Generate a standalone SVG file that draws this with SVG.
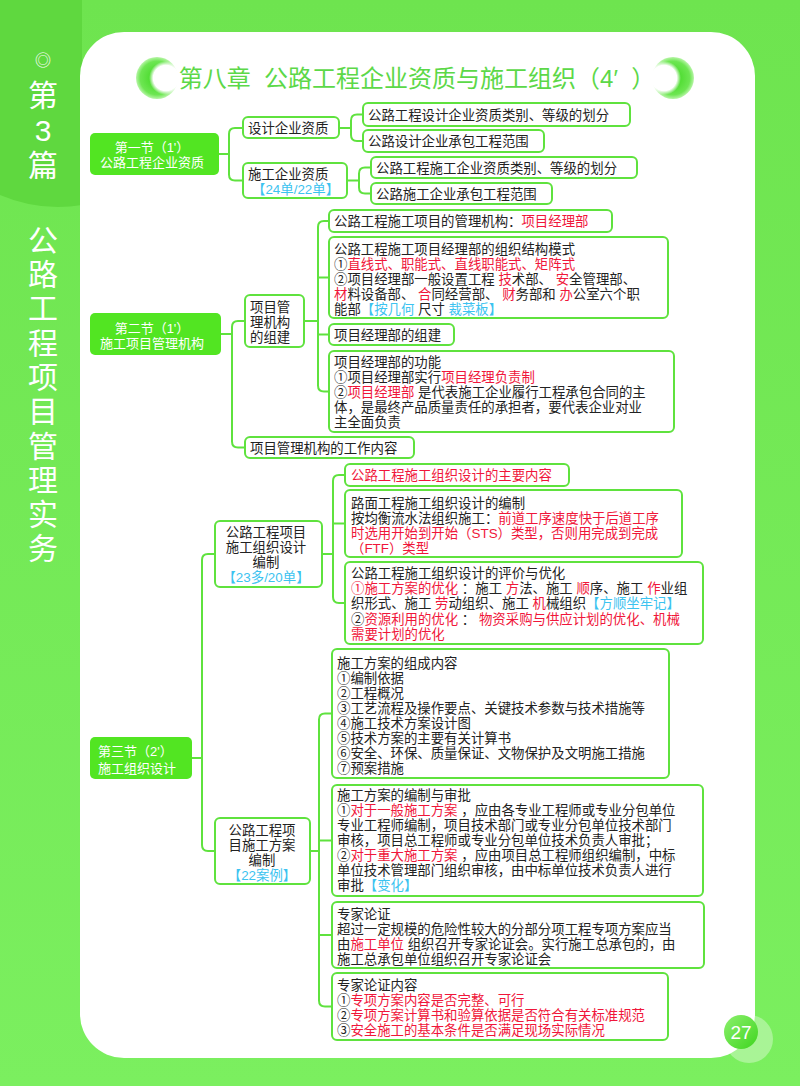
<svg xmlns="http://www.w3.org/2000/svg" width="800" height="1086" viewBox="0 0 800 1086">
<defs>
<linearGradient id="bg" x1="0" y1="0" x2="0" y2="1">
<stop offset="0" stop-color="#6ee44f"/>
<stop offset="1" stop-color="#7bef5f"/>
</linearGradient>
<radialGradient id="orn" cx="0.5" cy="0.5" r="0.5">
<stop offset="0" stop-color="#3bd61c"/>
<stop offset="0.8" stop-color="#6de652"/>
<stop offset="1" stop-color="#b8f5a8"/>
</radialGradient>
<radialGradient id="wfade" cx="0.5" cy="0.5" r="0.5">
<stop offset="0" stop-color="#ffffff"/>
<stop offset="0.75" stop-color="#ffffff"/>
<stop offset="1" stop-color="#ffffff" stop-opacity="0"/>
</radialGradient>
<linearGradient id="pg" x1="0" y1="0" x2="1" y2="1">
<stop offset="0" stop-color="#8df06e"/>
<stop offset="1" stop-color="#3ed51e"/>
</linearGradient>
<style>
.box{fill:#fff;stroke:#5fe23e;stroke-width:2}
.sec{fill:#52e522}
.conn{fill:none;stroke:#5fe23e;stroke-width:2}
text{font-family:"Liberation Sans","Noto Sans CJK SC",sans-serif;white-space:pre}
.t{font-size:13.4px;fill:#222}
.w{font-size:13px;fill:#fff}
.r{fill:#f0163a}
.b{fill:#3cc3f0}
.side{font-size:30px;fill:#fff;text-anchor:middle}
</style>
</defs>

<rect x="0" y="0" width="800" height="1086" fill="url(#bg)"/>
<path d="M0 0 H82 V205 Q40 212 0 195 Z" fill="#5fd83f"/>
<rect x="80" y="32" width="675" height="1026" rx="44" ry="44" fill="#fff"/>

<g id="sidebar">
<text class="side" x="43" y="66" style="font-size:16px">◎</text>
<text class="side"><tspan x="43" y="106">第</tspan><tspan x="43" y="141">3</tspan><tspan x="43" y="176">篇</tspan></text>
<text class="side"><tspan x="43" y="251">公</tspan><tspan x="43" y="285">路</tspan><tspan x="43" y="319">工</tspan><tspan x="43" y="354">程</tspan><tspan x="43" y="388">项</tspan><tspan x="43" y="422">目</tspan><tspan x="43" y="457">管</tspan><tspan x="43" y="491">理</tspan><tspan x="43" y="525">实</tspan><tspan x="43" y="559">务</tspan></text>
</g>

<g id="title">
<circle cx="157" cy="78" r="21" fill="url(#orn)"/>
<circle cx="166" cy="78" r="17" fill="url(#wfade)"/>
<circle cx="673" cy="78" r="21" fill="url(#orn)"/>
<circle cx="664" cy="78" r="17" fill="url(#wfade)"/>
<text x="417" y="87" text-anchor="middle" style="font-size:24px;fill:#5cd848">第八章  公路工程企业资质与施工组织（4′  ）</text>
</g>

<g id="connectors">
<path class="conn" d="M219 154 H229 M229 154 V134 Q229 128 235 128 H243 M229 154 V174.5 Q229 180.5 235 180.5 H243"/>
<path class="conn" d="M339 128 H351 M351 128 V120.5 Q351 114.5 357 114.5 H363 M351 128 V135 Q351 141 357 141 H363"/>
<path class="conn" d="M347 180.5 H359 M359 180.5 V173.5 Q359 167.5 365 167.5 H371 M359 180.5 V187.5 Q359 193.5 365 193.5 H371"/>
<path class="conn" d="M221 334 H232 M232 334 V327 Q232 321 238 321 H245 M232 334 V441.5 Q232 447.5 238 447.5 H245"/>
<path class="conn" d="M304 321 H318 M318 321 V227 Q318 221 324 221 H329 M318 321 V385.5 Q318 391.5 324 391.5 H329 M318 277.5 H329 M318 334.5 H329"/>
<path class="conn" d="M192 758 H202 M202 758 V560 Q202 554 208 554 H215 M202 758 V845 Q202 851 208 851 H215"/>
<path class="conn" d="M322 554 H333 M333 554 V481 Q333 475 339 475 H345 M333 554 V597 Q333 603 339 603 H345 M333 523.5 H345"/>
<path class="conn" d="M310 851 H319 M319 851 V719.5 Q319 713.5 325 713.5 H332 M319 851 V1000.5 Q319 1006.5 325 1006.5 H332 M319 840.5 H332 M319 935 H332"/>
</g>

<g id="sec1">
<rect class="sec" x="90" y="133" width="129" height="42" rx="5"/>
<text class="w" text-anchor="middle"><tspan x="152" y="152">第一节（1'）</tspan><tspan x="152" y="167">公路工程企业资质</tspan></text>
</g>
<g id="nodeA">
<rect class="box" x="243" y="117" width="96" height="21" rx="5"/>
<text class="t" x="248" y="132.5">设计企业资质</text>
</g>
<g id="nodeA1">
<rect class="box" x="363" y="103" width="267" height="23" rx="5"/>
<text class="t" x="368" y="119.5">公路工程设计企业资质类别、等级的划分</text>
</g>
<g id="nodeA2">
<rect class="box" x="363" y="130" width="181" height="22" rx="5"/>
<text class="t" x="368" y="146">公路设计企业承包工程范围</text>
</g>
<g id="nodeB">
<rect class="box" x="243" y="163" width="104" height="35" rx="5"/>
<text class="t"><tspan x="248" y="178.5">施工企业资质</tspan><tspan class="b" x="252" y="193.5">【24单/22单】</tspan></text>
</g>
<g id="nodeB1">
<rect class="box" x="371" y="157" width="266" height="21" rx="5"/>
<text class="t" x="376" y="172.5">公路工程施工企业资质类别、等级的划分</text>
</g>
<g id="nodeB2">
<rect class="box" x="371" y="183" width="181" height="21" rx="5"/>
<text class="t" x="376" y="198.5">公路施工企业承包工程范围</text>
</g>

<g id="sec2">
<rect class="sec" x="90" y="313" width="131" height="42" rx="5"/>
<text class="w" text-anchor="middle"><tspan x="152" y="333">第二节（1'）</tspan><tspan x="152" y="348">施工项目管理机构</tspan></text>
</g>
<g id="nodeC">
<rect class="box" x="245" y="295" width="59" height="52" rx="5"/>
<text class="t"><tspan x="250" y="312">项目管</tspan><tspan x="250" y="327">理机构</tspan><tspan x="250" y="342">的组建</tspan></text>
</g>
<g id="nodeC1">
<rect class="box" x="329" y="210" width="283" height="22" rx="5"/>
<text class="t" x="334" y="226">公路工程施工项目的管理机构：<tspan class="r">项目经理部</tspan></text>
</g>
<g id="nodeC2">
<rect class="box" x="329" y="237" width="339" height="81" rx="5"/>
<text class="t"><tspan x="334" y="254">公路工程施工项目经理部的组织结构模式</tspan><tspan x="334" y="269">①<tspan class="r">直线式、职能式、直线职能式、矩阵式</tspan></tspan><tspan x="334" y="284">②项目经理部一般设置工程 <tspan class="r">技</tspan>术部、 <tspan class="r">安</tspan>全管理部、</tspan><tspan x="334" y="299"><tspan class="r">材</tspan>料设备部、 <tspan class="r">合</tspan>同经营部、 <tspan class="r">财</tspan>务部和 <tspan class="r">办</tspan>公室六个职</tspan><tspan x="334" y="314">能部<tspan class="b">【按几何 </tspan>尺寸 <tspan class="b">裁菜板】</tspan></tspan></text>
</g>
<g id="nodeC3">
<rect class="box" x="329" y="324" width="125" height="21" rx="5"/>
<text class="t" x="334" y="339.5">项目经理部的组建</text>
</g>
<g id="nodeC4">
<rect class="box" x="329" y="351" width="345" height="81" rx="5"/>
<text class="t"><tspan x="334" y="367">项目经理部的功能</tspan><tspan x="334" y="382">①项目经理部实行<tspan class="r">项目经理负责制</tspan></tspan><tspan x="334" y="397">②<tspan class="r">项目经理部</tspan> 是代表施工企业履行工程承包合同的主</tspan><tspan x="334" y="412">体，是最终产品质量责任的承担者，要代表企业对业</tspan><tspan x="334" y="427">主全面负责</tspan></text>
</g>
<g id="nodeD">
<rect class="box" x="245" y="437" width="169" height="21" rx="5"/>
<text class="t" x="250" y="452.5">项目管理机构的工作内容</text>
</g>

<g id="sec3">
<rect class="sec" x="90" y="737" width="102" height="42" rx="5"/>
<text class="w"><tspan x="98" y="756">第三节（2'）</tspan><tspan x="98" y="773">施工组织设计</tspan></text>
</g>
<g id="nodeE">
<rect class="box" x="215" y="521" width="107" height="66" rx="5"/>
<text class="t" text-anchor="middle"><tspan x="266" y="537">公路工程项目</tspan><tspan x="266" y="552">施工组织设计</tspan><tspan x="266" y="567">编制</tspan><tspan class="b" x="266" y="582">【23多/20单】</tspan></text>
</g>
<g id="nodeE1">
<rect class="box" x="345" y="464" width="224" height="22" rx="5"/>
<text class="t r" x="351" y="480">公路工程施工组织设计的主要内容</text>
</g>
<g id="nodeE2">
<rect class="box" x="345" y="490" width="337" height="67" rx="5"/>
<text class="t"><tspan x="351" y="508">路面工程施工组织设计的编制</tspan><tspan x="351" y="523">按均衡流水法组织施工：<tspan class="r">前道工序速度快于后道工序</tspan></tspan><tspan class="r" x="351" y="538">时选用开始到开始（STS）类型，否则用完成到完成</tspan><tspan class="r" x="351" y="553">（FTF）类型</tspan></text>
</g>
<g id="nodeE3">
<rect class="box" x="345" y="562" width="358" height="82" rx="5"/>
<text class="t"><tspan x="351" y="578">公路工程施工组织设计的评价与优化</tspan><tspan x="351" y="593.2"><tspan class="r">①施工方案的优化</tspan> ：施工 <tspan class="r">方</tspan>法、施工 <tspan class="r">顺</tspan>序、施工 <tspan class="r">作</tspan>业组</tspan><tspan x="351" y="608.4">织形式、施工 <tspan class="r">劳</tspan>动组织、施工 <tspan class="r">机</tspan>械组织<tspan class="b">【方顺坐牢记】</tspan></tspan><tspan x="351" y="623.6">②<tspan class="r">资源利用的优化</tspan> ： <tspan class="r">物资采购与供应计划的优化、机械</tspan></tspan><tspan class="r" x="351" y="638.8">需要计划的优化</tspan></text>
</g>

<g id="nodeF">
<rect class="box" x="215" y="818" width="95" height="66" rx="5"/>
<text class="t" text-anchor="middle"><tspan x="262" y="835">公路工程项</tspan><tspan x="262" y="850">目施工方案</tspan><tspan x="262" y="865">编制</tspan><tspan class="b" x="262" y="880">【22案例】</tspan></text>
</g>
<g id="nodeF1">
<rect class="box" x="332" y="649" width="337" height="129" rx="5"/>
<text class="t"><tspan x="337" y="668">施工方案的组成内容</tspan><tspan x="337" y="683">①编制依据</tspan><tspan x="337" y="698">②工程概况</tspan><tspan x="337" y="713">③工艺流程及操作要点、关键技术参数与技术措施等</tspan><tspan x="337" y="728">④施工技术方案设计图</tspan><tspan x="337" y="743">⑤技术方案的主要有关计算书</tspan><tspan x="337" y="758">⑥安全、环保、质量保证、文物保护及文明施工措施</tspan><tspan x="337" y="773">⑦预案措施</tspan></text>
</g>
<g id="nodeF2">
<rect class="box" x="332" y="785" width="371" height="111" rx="5"/>
<text class="t"><tspan x="337" y="800">施工方案的编制与审批</tspan><tspan x="337" y="815">①<tspan class="r">对于一般施工方案</tspan> ，应由各专业工程师或专业分包单位</tspan><tspan x="337" y="830">专业工程师编制，项目技术部门或专业分包单位技术部门</tspan><tspan x="337" y="845">审核，项目总工程师或专业分包单位技术负责人审批；</tspan><tspan x="337" y="860">②<tspan class="r">对于重大施工方案</tspan> ，应由项目总工程师组织编制，中标</tspan><tspan x="337" y="875">单位技术管理部门组织审核，由中标单位技术负责人进行</tspan><tspan x="337" y="890">审批<tspan class="b">【变化】</tspan></tspan></text>
</g>
<g id="nodeF3">
<rect class="box" x="332" y="902" width="372" height="66" rx="5"/>
<text class="t"><tspan x="337" y="919">专家论证</tspan><tspan x="337" y="934">超过一定规模的危险性较大的分部分项工程专项方案应当</tspan><tspan x="337" y="949">由<tspan class="r">施工单位</tspan> 组织召开专家论证会。实行施工总承包的，由</tspan><tspan x="337" y="964">施工总承包单位组织召开专家论证会</tspan></text>
</g>
<g id="nodeF4">
<rect class="box" x="332" y="973" width="336" height="67" rx="5"/>
<text class="t"><tspan x="337" y="990">专家论证内容</tspan><tspan x="337" y="1005">①<tspan class="r">专项方案内容是否完整、可行</tspan></tspan><tspan x="337" y="1020">②<tspan class="r">专项方案计算书和验算依据是否符合有关标准规范</tspan></tspan><tspan x="337" y="1035">③<tspan class="r">安全施工的基本条件是否满足现场实际情况</tspan></tspan></text>
</g>

<g id="pagenum">
<circle cx="749" cy="1039" r="24" fill="#ffffff" fill-opacity="0.35"/>
<circle cx="741" cy="1032" r="17" fill="url(#pg)"/>
<text x="741" y="1039" text-anchor="middle" style="font-size:19px;fill:#fff">27</text>
</g>
</svg>
